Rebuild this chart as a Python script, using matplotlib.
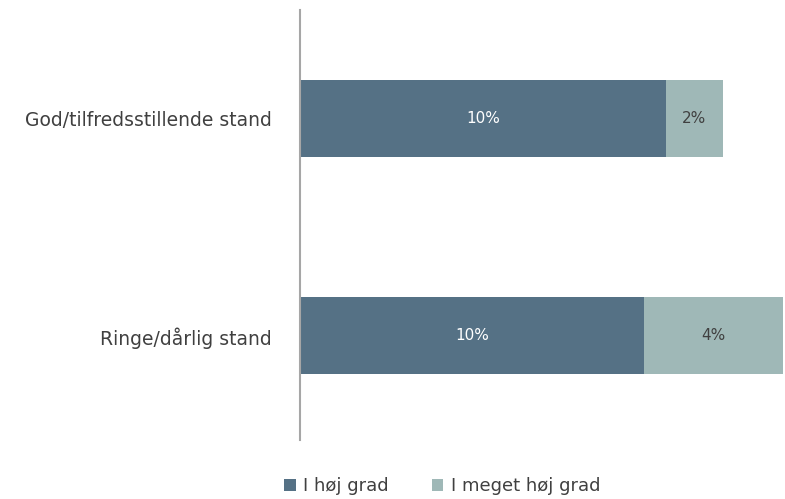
import matplotlib
matplotlib.use("Agg")
import matplotlib.pyplot as plt

# data
categories = ["God/tilfredsstillende stand", "Ringe/dårlig stand"]
hoej = [10.3, 9.7]
meget_hoej = [1.6, 3.9]
series_names = ["I høj grad", "I meget høj grad"]

c_dark = "#557185"
c_light = "#9fb8b7"
txt = "#404040"

plt.rcParams['font.family'] = ['DejaVu Sans']

fig = plt.figure(figsize=(7.85, 4.99), dpi=100)
ax = fig.add_axes([300/785, 59/499, 483/785, 430/499])

y = list(range(len(categories)))
h = 0.355
b1 = ax.barh(y, hoej, height=h, color=c_dark, label=series_names[0])
b2 = ax.barh(y, meget_hoej, left=hoej, height=h, color=c_light, label=series_names[1])

for i in y:
    ax.text(hoej[i] / 2, i, "%d%%" % round(hoej[i]), ha="center", va="center",
            color="white", fontsize=11)
    ax.text(hoej[i] + meget_hoej[i] / 2, i, "%d%%" % round(meget_hoej[i]),
            ha="center", va="center", color=txt, fontsize=11)

ax.set_xlim(0, 13.6)
ax.set_ylim(1.48, -0.5)
ax.set_yticks(y)
ax.set_yticklabels(categories, fontsize=13.5, color=txt)
ax.tick_params(axis="y", length=0, pad=20)
ax.set_xticks([])
for s in ["top", "right", "bottom"]:
    ax.spines[s].set_visible(False)
ax.spines["left"].set_color("#a6a6a6")
ax.spines["left"].set_linewidth(1.5)

fig.legend(handles=[b1, b2], loc="center", bbox_to_anchor=(442/785, 1 - 486/499),
           ncol=2, frameon=False, fontsize=13, handlelength=0.65, handleheight=0.65,
           handletextpad=0.4, columnspacing=2.4, labelcolor=txt)

fig.savefig("out.png", dpi=100)
